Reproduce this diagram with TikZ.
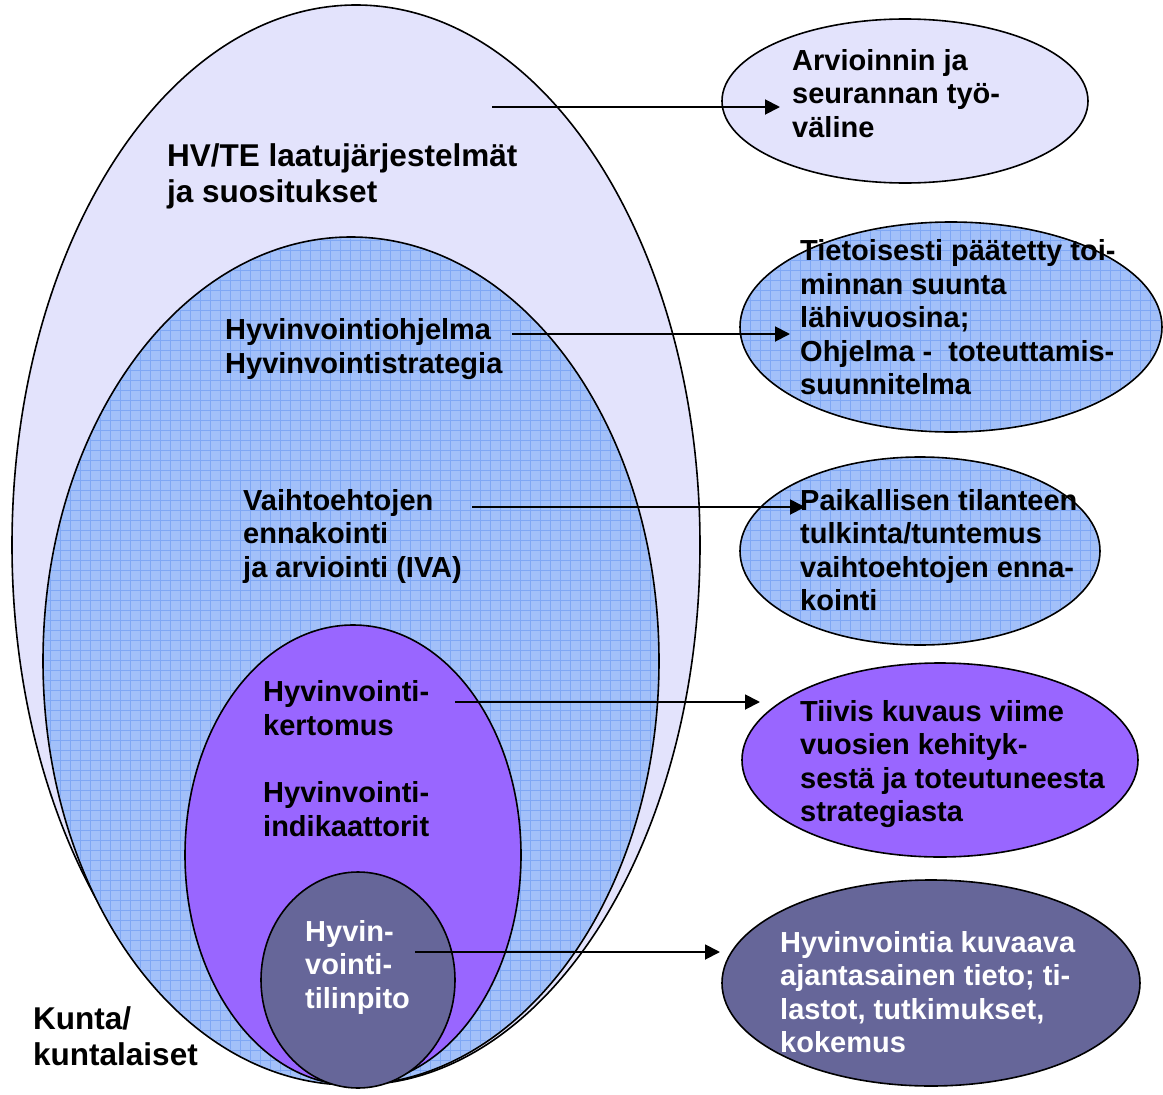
\documentclass[tikz,border=0pt]{standalone}
\usepackage{fontspec}
\setmainfont{Liberation Sans}
\usetikzlibrary{shapes.geometric,arrows.meta,calc}
\definecolor{checkfill}{HTML}{E3E3FC}
\definecolor{gridfill}{HTML}{A2C0F9}
\definecolor{gridline}{HTML}{7FA7F4}
\definecolor{violetfill}{HTML}{9966FF}
\definecolor{slatefill}{HTML}{666699}
\tikzset{
  oval/.style={ellipse, draw=black, line width=1.6pt, inner sep=0pt},
  lbl/.style={anchor=west, align=left, inner sep=0pt, font=\bfseries\fontsize{29}{33.5}\selectfont},
  biglbl/.style={anchor=west, align=left, inner sep=0pt, font=\bfseries\fontsize{31.5}{36}\selectfont},
  conn/.style={line width=1.9pt, -{Triangle[length=15pt,width=15pt]}},
  gridlines/.style={draw=gridline, line width=0.9pt}
}
\newcommand{\gridin}[3]{% center, xrad, yrad
  \begin{scope}
    \clip #1 ellipse [x radius=#2-1.5, y radius=#3-1.5];
    \draw[gridlines] ($#1+(-#2,-#3)$) grid[step=10pt] ($#1+(#2,#3)$);
  \end{scope}}
\begin{document}
\begin{tikzpicture}[x=1pt,y=-1pt]
\useasboundingbox (0,0) rectangle (1163,1095);
% nested ellipses
\node[oval, fill=checkfill, minimum width=688pt, minimum height=1080pt] (outer) at (356,545) {};
\node[oval, fill=gridfill, minimum width=616pt, minimum height=848pt] (prog) at (351,661) {};
\gridin{(prog.center)}{308}{424}
\node[oval, fill=violetfill, minimum width=336pt, minimum height=460pt] (kert) at (353,855) {};
\node[oval, fill=slatefill, minimum width=194pt, minimum height=216pt] (tili) at (358,980) {};
% right ellipses
\node[oval, fill=checkfill, minimum width=366pt, minimum height=164pt] (r1) at (905,101) {};
\node[oval, fill=gridfill, minimum width=422pt, minimum height=210pt] (r2) at (951,327) {};
\gridin{(r2.center)}{211}{105}
\node[oval, fill=gridfill, minimum width=360pt, minimum height=188pt] (r3) at (920,551) {};
\gridin{(r3.center)}{180}{94}
\node[oval, fill=violetfill, minimum width=396pt, minimum height=194pt] (r4) at (940,760) {};
\node[oval, fill=slatefill, minimum width=418pt, minimum height=206pt] (r5) at (931,983) {};
% left labels
\node[biglbl] (tHV) at (167,177) {\strut HV/TE laatujärjestelmät\\ja suositukset\strut};
\node[lbl] (tOhj) at (225,350) {\strut Hyvinvointiohjelma\\Hyvinvointistrategia\strut};
\node[lbl] (tVai) at (243,537) {\strut Vaihtoehtojen\\ennakointi\\ja arviointi (IVA)\strut};
\node[lbl] (tKer) at (263,712) {\strut Hyvinvointi-\\kertomus\strut};
\node[lbl] (tInd) at (263,813) {\strut Hyvinvointi-\\indikaattorit\strut};
\node[lbl, text=white] (tTil) at (305,968) {\strut Hyvin-\\vointi-\\tilinpito\strut};
\node[biglbl] (tKun) at (33,1040) {\strut Kunta/\\kuntalaiset\strut};
% right labels
\node[lbl] (tR1) at (792,97) {\strut Arvioinnin ja\\seurannan työ-\\väline\strut};
\node[lbl] (tR2) at (800,321) {\strut Tietoisesti päätetty toi-\\minnan suunta\\lähivuosina;\\Ohjelma -\ \ toteuttamis-\\suunnitelma\strut};
\node[lbl] (tR3) at (800,554) {\strut Paikallisen tilanteen\\tulkinta/tuntemus\\vaihtoehtojen enna-\\kointi\strut};
\node[lbl] (tR4) at (800,765) {\strut Tiivis kuvaus viime\\vuosien kehityk-\\sestä ja toteutuneesta\\strategiasta\strut};
\node[lbl, text=white] (tR5) at (780,996) {\strut Hyvinvointia kuvaava\\ajantasainen tieto; ti-\\lastot, tutkimukset,\\kokemus\strut};
% connectors
\coordinate (s1) at (492,107); \coordinate (e1) at (780,107);
\coordinate (s2) at (512,334); \coordinate (e2) at (790,334);
\coordinate (s3) at (472,507); \coordinate (e3) at (805,507);
\coordinate (s4) at (455,702); \coordinate (e4) at (760,702);
\coordinate (s5) at (415,952); \coordinate (e5) at (720,952);
\draw[conn] (s1) -- (e1);
\draw[conn] (s2) -- (e2);
\draw[conn] (s3) -- (e3);
\draw[conn] (s4) -- (e4);
\draw[conn] (s5) -- (e5);
\end{tikzpicture}
\end{document}
